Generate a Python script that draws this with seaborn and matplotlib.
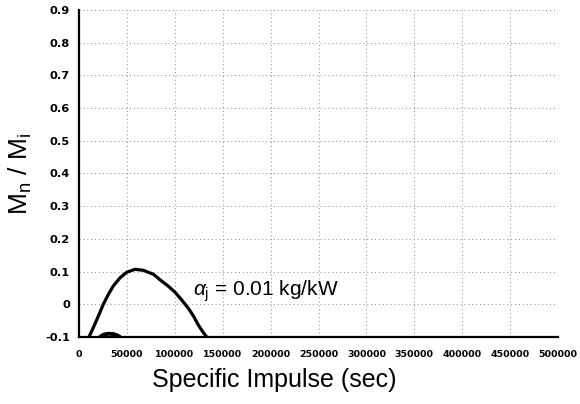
import matplotlib
matplotlib.use("Agg")
import matplotlib.pyplot as plt
import seaborn as sns
import numpy as np
import pandas as pd
from matplotlib.ticker import FuncFormatter

# Data
main_isp = [10400, 15000, 20200, 25400, 30600, 35800, 42800, 49800, 58500, 67100,
            77600, 86300, 93000, 100200, 107000, 114100, 119500, 124500, 129000, 133300]
main_ratio = [-0.100, -0.071, -0.036, 0.000, 0.030, 0.056, 0.081, 0.098, 0.107, 0.104,
              0.092, 0.071, 0.056, 0.037, 0.014, -0.012, -0.036, -0.063, -0.083, -0.100]
small_isp = [21900, 25500, 30600, 36000, 40000, 42800]
small_ratio = [-0.100, -0.093, -0.090, -0.091, -0.095, -0.100]
x_ticks = list(range(0, 500001, 50000))
y_ticks = [-0.1, 0, 0.1, 0.2, 0.3, 0.4, 0.5, 0.6, 0.7, 0.8, 0.9]
annotation = r"$\alpha_\mathrm{j}$ = 0.01 kg/kW"

sns.set_theme(style="white")
plt.rcParams['font.family'] = ['Liberation Sans', 'DejaVu Sans']
plt.rcParams['mathtext.fontset'] = 'custom'
plt.rcParams['mathtext.rm'] = 'Liberation Sans'
plt.rcParams['mathtext.it'] = 'Liberation Sans:italic'

fig = plt.figure(figsize=(5.8, 4.04), dpi=100)
ax = fig.add_axes([79/580, 1-337/404, 479/580, 327/404])

df_main = pd.DataFrame({"isp": main_isp, "ratio": main_ratio})
df_small = pd.DataFrame({"isp": small_isp, "ratio": small_ratio})
sns.lineplot(data=df_main, x="isp", y="ratio", ax=ax, color="black", linewidth=2.3, sort=False)
sns.lineplot(data=df_small, x="isp", y="ratio", ax=ax, color="black", linewidth=2.8, sort=False)

ax.set_xlim(0, 500000)
ax.set_ylim(-0.1, 0.9)
ax.set_xticks(x_ticks)
ax.set_yticks(y_ticks)
ax.xaxis.set_major_formatter(FuncFormatter(lambda v, p: f"{int(round(v))}"))
ax.yaxis.set_major_formatter(FuncFormatter(lambda v, p: "0" if abs(v) < 1e-9 else f"{v:.1f}"))
for lab in ax.get_xticklabels():
    lab.set_fontweight("bold")
    lab.set_family("DejaVu Sans")
    lab.set_fontsize(6.8)
for lab in ax.get_yticklabels():
    lab.set_fontweight("bold")
    lab.set_family("DejaVu Sans")
    lab.set_fontsize(8.2)
ax.tick_params(axis="x", direction="inout", length=5, width=1, pad=7, colors="black")
ax.tick_params(axis="y", direction="inout", length=5, width=1, pad=4, colors="black")

ax.grid(True, linestyle=(0, (1, 3)), color="#8a8a8a", linewidth=0.7)
for s in ["top", "right"]:
    ax.spines[s].set_visible(False)
for s in ["left", "bottom"]:
    ax.spines[s].set_color("black")
    ax.spines[s].set_linewidth(1.6)

ax.set_xlabel("Specific Impulse (sec)", fontsize=18, labelpad=6, color="black")
ax.xaxis.set_label_coords(0.408, -0.095)
ax.set_ylabel(r"M$_\mathrm{n}$ / M$_\mathrm{i}$", fontsize=19, labelpad=8, color="black")

ax.text(119000, 0.025, annotation, fontsize=15, va="baseline", ha="left", color="black")

fig.savefig("out.png", dpi=100)
